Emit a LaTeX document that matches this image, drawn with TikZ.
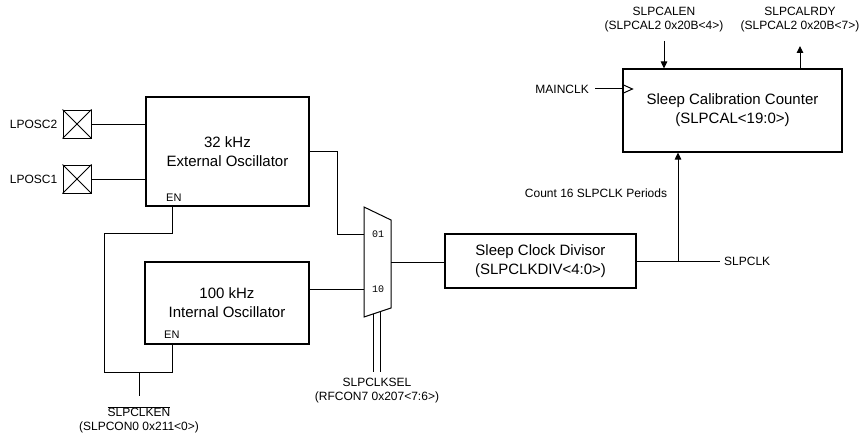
\documentclass[tikz,border=0pt]{standalone}
\usepackage{fontspec}
\setmainfont{Liberation Sans}
\newfontfamily\monofont{Liberation Mono}
\usetikzlibrary{positioning,arrows.meta,calc}

\begin{document}
\begin{tikzpicture}[x=1pt,y=-1pt,
  >={Triangle[length=7pt,width=6.5pt]},
  blk/.style={draw,line width=1.1pt,align=center,inner sep=0pt,font=\fontsize{15}{19}\selectfont},
  pin/.style={draw,line width=1pt,minimum size=28pt,inner sep=0pt},
  lbl/.style={font=\fontsize{12}{14}\selectfont,align=center,inner sep=0pt},
  enlab/.style={font=\fontsize{11}{13}\selectfont,inner sep=0pt,anchor=base west},
  muxlab/.style={font=\monofont\fontsize{10}{12}\selectfont,inner sep=0pt},
  wire/.style={line width=1pt}
]
\useasboundingbox (0,0) rectangle (860,436);

% OSCILLATORS
\node[blk,minimum width=163pt,minimum height=109pt] (ext) at (227.5,151.5) {32 kHz\\External Oscillator};
\node[blk,minimum width=164pt,minimum height=82pt] (int) at (227,303) {100 kHz\\Internal Oscillator};
\node[enlab] at (166,201) {EN};
\node[enlab] at (164,338) {EN};

% crystal pins
\node[pin] (lp2) at (77,124) {};
\node[pin] (lp1) at (77,179) {};
\foreach \p in {lp2,lp1}
  \draw[wire] (\p.north west) -- (\p.south east) (\p.north east) -- (\p.south west);
\node[lbl,left=5pt of lp2] (lp2lab) {LPOSC2};
\node[lbl,left=5pt of lp1] (lp1lab) {LPOSC1};
\draw[wire] (lp2.east) -- (lp2 -| ext.west);
\draw[wire] (lp1.east) -- (lp1 -| ext.west);

% enable loop
\coordinate (extEN) at ([xshift=27pt]ext.south west);
\coordinate (intEN) at ([xshift=28pt]int.south west);
\coordinate (enj) at (139,372);
\coordinate (enend) at (139,396);
\draw[wire] (extEN) -- ++(0,27) -| (104,372) -| (intEN);
\draw[wire] (enj) -- (enend);
\node[lbl] (enlbl) at (139,420) {$\overline{\hbox{SLPCLKEN}}$\\(SLPCON0 0x211<0>)};

% MUX
\coordinate (muxA) at (364,207);
\coordinate (muxB) at (391,220);
\coordinate (muxC) at (391,308);
\coordinate (muxD) at (364,317);
\draw[wire] (muxA) -- (muxB) -- (muxC) -- (muxD) -- cycle;
\coordinate (mux01) at (364,234);
\coordinate (mux10) at (364,289);
\coordinate (muxout) at (391,262);
\node[muxlab] at (378,234) {01};
\node[muxlab] at (378,289) {10};
\draw[wire] (ext.east) -| ([xshift=-27pt]mux01) -- (mux01);
\draw[wire] (int.east |- mux10) -- (mux10);

% select bus
\coordinate (selA) at ($(muxD)!0.37!(muxC)$);
\coordinate (selB) at ($(muxD)!0.593!(muxC)$);
\draw[wire] (selA) -- (selA |- 0,372);
\draw[wire] (selB) -- (selB |- 0,372);
\node[lbl] (sellbl) at (377,391) {SLPCLKSEL\\(RFCON7 0x207<7:6>)};

% DIVISOR
\node[blk,minimum width=191pt,minimum height=54pt] (div) at (540.5,261) {Sleep Clock Divisor\\(SLPCLKDIV<4:0>)};
\draw[wire] (muxout) -- (muxout -| div.west);
\coordinate (slpclk) at (720,261);
\coordinate (jn) at (678,261);
\draw[wire] (div.east |- slpclk) -- (slpclk);
\node[lbl,anchor=west] at ([xshift=4pt]slpclk) {SLPCLK};

% COUNTER
\node[blk,minimum width=219pt,minimum height=83pt] (cnt) at (732.5,110.5) {Sleep Calibration Counter\\(SLPCAL<19:0>)};
\draw[wire,->] (jn) -- (jn |- cnt.south);
\node[lbl] (cntlbl) at (596,193) {Count 16 SLPCLK Periods};

\node[lbl,anchor=east] (mainclk) at (589,89) {MAINCLK};
\draw[wire] ([xshift=6pt]mainclk.east) -- (mainclk -| cnt.west);
\draw[wire] (mainclk -| cnt.west) ++(0,-4.5) -- ++(10,4.5) -- ++(-10,4.5);

\coordinate (calen) at (664,41);
\coordinate (calrdy) at (800,46);
\draw[wire,->] (calen) -- (calen |- cnt.north);
\draw[wire,->] (calrdy |- cnt.north) -- (calrdy);
\node[lbl] (calenlbl) at (664,20) {SLPCALEN\\(SLPCAL2 0x20B<4>)};
\node[lbl] (calrdylbl) at (800,20) {SLPCALRDY\\(SLPCAL2 0x20B<7>)};

\end{tikzpicture}
\end{document}
